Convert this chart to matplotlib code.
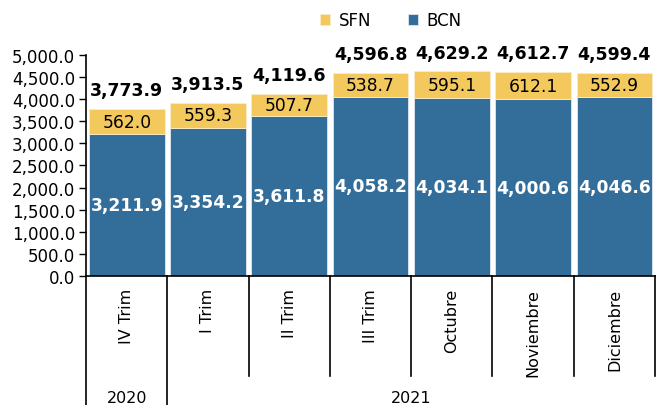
import matplotlib
matplotlib.use('Agg')
import matplotlib.pyplot as plt
import numpy as np

cats = ['IV Trim', 'I Trim', 'II Trim', 'III Trim', 'Octubre', 'Noviembre', 'Diciembre']
years = ['2020', '2021']
year_span = [(0, 0), (1, 6)]
bcn = [3211.9, 3354.2, 3611.8, 4058.2, 4034.1, 4000.6, 4046.6]
sfn = [562.0, 559.3, 507.7, 538.7, 595.1, 612.1, 552.9]
total = [3773.9, 3913.5, 4119.6, 4596.8, 4629.2, 4612.7, 4599.4]

c_bcn = '#336E9B'
c_sfn = '#F3C95D'

plt.rcParams['font.family'] = 'DejaVu Sans'
fig = plt.figure(figsize=(6.57, 4.06), dpi=100)
ax = fig.add_axes([0.131, 0.318, 0.866, 0.544])

x = np.arange(len(cats))
ax.bar(x, bcn, width=0.93, color=c_bcn, edgecolor='#dfe8f0', linewidth=0.6, label='BCN')
ax.bar(x, sfn, bottom=bcn, width=0.93, color=c_sfn, edgecolor='#f8ecc8', linewidth=0.6, label='SFN')

for i in x:
    ax.text(i, bcn[i] / 2, f'{bcn[i]:,.1f}', ha='center', va='center', color='white',
            fontsize=12.3, fontweight='bold')
    ax.text(i, bcn[i] + sfn[i] / 2, f'{sfn[i]:,.1f}', ha='center', va='center', color='black',
            fontsize=12.3)
    ax.text(i, total[i] + 220, f'{total[i]:,.1f}', ha='center', va='bottom', color='black',
            fontsize=12.5, fontweight='bold')

ax.set_xlim(-0.5, len(cats) - 0.5)
ax.set_ylim(0, 5000)
ax.set_yticks(np.arange(0, 5001, 500))
ax.set_yticklabels([f'{v:,.1f}' for v in np.arange(0, 5001, 500)], fontsize=12)
ax.tick_params(axis='y', length=5, width=1, pad=3)
ax.set_xticks([])
for s in ['top', 'right']:
    ax.spines[s].set_visible(False)
for s in ['left', 'bottom']:
    ax.spines[s].set_linewidth(1.2)

trans = ax.get_xaxis_transform()
# category separators below the axis
bounds = np.arange(-0.5, len(cats), 1.0)
year_edges = [-0.5, 0.5]
for b in bounds:
    low = -0.6 if b in year_edges else -0.452
    ax.plot([b, b], [0, low], transform=trans, color='black', lw=1.2, clip_on=False)

for i, c in enumerate(cats):
    ax.text(i, -0.055, c, transform=trans, rotation=90, ha='center', va='top', fontsize=11.5)

for y, (a, b) in zip(years, year_span):
    ax.text((a + b) / 2, -0.55, y, transform=trans, ha='center', va='center', fontsize=11.5)

h, l = ax.get_legend_handles_labels()
fig.legend(h[::-1], l[::-1], loc='center', bbox_to_anchor=(0.595, 0.948), ncol=2, frameon=False,
           fontsize=12, handlelength=0.6, handleheight=0.6, columnspacing=2.2, handletextpad=0.5)

fig.savefig('out.png', dpi=100)
